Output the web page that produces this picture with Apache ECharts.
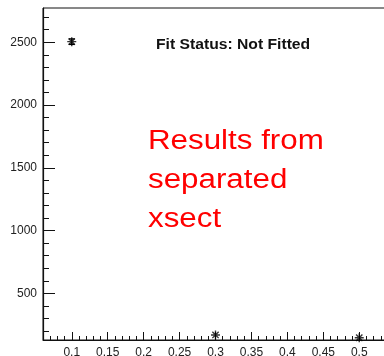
<!DOCTYPE html>
<html>
<head>
<meta charset="utf-8">
<script src="https://cdn.jsdelivr.net/npm/echarts@6/dist/echarts.min.js"></script>
<style>
  html, body { margin: 0; padding: 0; background: #fff; }
  #chart { width: 384px; height: 356px; }
</style>
</head>
<body>
<div id="chart"></div>
<script>
// Measured points (x = kinematic variable, y = cross section) with their errors
var xValues = [0.1, 0.3, 0.5];
var yValues = [2505, 168, 146];
var yErrors = [22, 0, 0];

// Axis tick labels
var xTickLabels = [0.1, 0.15, 0.2, 0.25, 0.3, 0.35, 0.4, 0.45, 0.5];
var yTickLabels = [500, 1000, 1500, 2000, 2500];

// Axis ranges
var xRange = [0.06, 0.54];
var yRange = [128, 2773];

// Minor ticks: 5 subdivisions between major ticks
function minorTicks(lo, hi, step, majors) {
  var out = [];
  var start = Math.ceil(lo / step - 1e-9) * step;
  for (var v = start; v <= hi + 1e-9; v += step) {
    var r = Math.round(v / step) * step;
    var isMajor = majors.some(function (m) { return Math.abs(m - r) < step / 10; });
    if (!isMajor && r > lo && r < hi) out.push(+r.toFixed(6));
  }
  return out;
}
var xMinor = minorTicks(xRange[0], xRange[1], 0.01, xTickLabels);
var yMinor = minorTicks(yRange[0], yRange[1], 100, yTickLabels);

var points = xValues.map(function (x, i) { return [x, yValues[i]]; });
var errData = xValues.map(function (x, i) { return [x, yValues[i], yErrors[i]]; });

var labelFont = { fontFamily: 'Liberation Sans, Arial, sans-serif', fontSize: 12, color: '#222' };

var chart = echarts.init(document.getElementById('chart'), null, { renderer: 'canvas' });
chart.setOption({
  animation: false,
  backgroundColor: '#fff',
  grid: {
    left: 43, top: 8, width: 345, height: 332,
    outerBoundsMode: 'none', containLabel: false,
    show: true, borderColor: '#111', borderWidth: 1, backgroundColor: 'transparent'
  },
  xAxis: [{
    type: 'value', min: xRange[0], max: xRange[1], position: 'bottom',
    axisLine: { show: true, lineStyle: { color: '#111', width: 1 } },
    axisTick: { show: true, inside: true, length: 8, customValues: xTickLabels, lineStyle: { color: '#111' } },
    axisLabel: Object.assign({ show: true, margin: 7, customValues: xTickLabels,
      formatter: function (v) { return String(+v.toFixed(2)); } }, labelFont),
    splitLine: { show: false }
  }, {
    type: 'value', min: xRange[0], max: xRange[1], position: 'bottom',
    axisLine: { show: false },
    axisTick: { show: true, inside: true, length: 4, customValues: xMinor, lineStyle: { color: '#111' } },
    axisLabel: { show: false },
    splitLine: { show: false }
  }],
  yAxis: [{
    type: 'value', min: yRange[0], max: yRange[1], position: 'left',
    axisLine: { show: true, lineStyle: { color: '#111', width: 1.2 } },
    axisTick: { show: true, inside: true, length: 12, customValues: yTickLabels, lineStyle: { color: '#111' } },
    axisLabel: Object.assign({ show: true, margin: 6, customValues: yTickLabels,
      formatter: function (v) { return String(Math.round(v)); } }, labelFont),
    splitLine: { show: false }
  }, {
    type: 'value', min: yRange[0], max: yRange[1], position: 'left',
    axisLine: { show: false },
    axisTick: { show: true, inside: true, length: 6, customValues: yMinor, lineStyle: { color: '#111' } },
    axisLabel: { show: false },
    splitLine: { show: false }
  }],
  series: [{
    type: 'custom',
    xAxisIndex: 0, yAxisIndex: 0,
    data: errData,
    renderItem: function (params, api) {
      var x = api.value(0), y = api.value(1), e = api.value(2);
      if (!e) return null;
      var top = api.coord([x, y + e]);
      var bot = api.coord([x, y - e]);
      var w = 3;
      var style = { stroke: '#000', lineWidth: 1.3 };
      return {
        type: 'group',
        children: [
          { type: 'line', shape: { x1: top[0], y1: top[1], x2: bot[0], y2: bot[1] }, style: style },
          { type: 'line', shape: { x1: top[0] - w, y1: top[1], x2: top[0] + w, y2: top[1] }, style: style },
          { type: 'line', shape: { x1: bot[0] - w, y1: bot[1], x2: bot[0] + w, y2: bot[1] }, style: style }
        ]
      };
    },
    z: 3
  }, {
    type: 'scatter',
    xAxisIndex: 0, yAxisIndex: 0,
    data: points,
    symbol: 'path://M5,0L5,10M0,5L10,5M1.5,1.5L8.5,8.5M1.5,8.5L8.5,1.5',
    symbolSize: 9,
    itemStyle: { color: '#000', borderColor: '#000', borderWidth: 1.4 },
    z: 4
  }],
  graphic: [{
    type: 'text',
    left: 156, top: 38,
    scaleX: 1.12,
    style: {
      text: 'Fit Status: Not Fitted',
      fontFamily: 'Liberation Sans, Arial, sans-serif',
      fontWeight: 'bold', fontSize: 14, fill: '#111'
    }
  }, {
    type: 'text',
    left: 148, top: 122,
    scaleX: 1.16,
    style: {
      text: 'Results from\nseparated\nxsect',
      fontFamily: 'Liberation Sans, Arial, sans-serif',
      fontSize: 27, lineHeight: 39, fill: '#ff0000'
    }
  }]
});
</script>
</body>
</html>
